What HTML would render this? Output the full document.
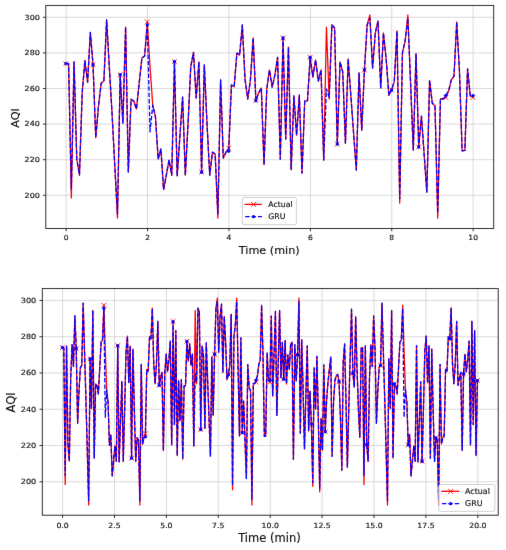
<!DOCTYPE html>
<html lang="en"><head><meta charset="utf-8"><title>AQI Actual vs GRU</title>
<style>html,body{margin:0;padding:0;background:#fff}body{width:506px;height:550px;overflow:hidden}svg{display:block}</style>
</head><body>
<svg width="506" height="550" viewBox="0 0 506 550">
<defs><filter id="soft" filterUnits="userSpaceOnUse" x="0" y="0" width="506" height="550" color-interpolation-filters="sRGB"><feConvolveMatrix order="3" kernelMatrix="0.0045 0.0669 0.0045 0.0669 1 0.0669 0.0045 0.0669 0.0045" edgeMode="duplicate" preserveAlpha="true"/></filter></defs>
<rect width="506" height="550" fill="#fff"/>
<g filter="url(#soft)">
<rect width="506" height="550" fill="#fff"/>
<clipPath id="clip1"><rect x="45.8" y="5.4" width="447.9" height="223.04999999999998"/></clipPath>
<rect x="45.8" y="5.4" width="447.9" height="223.04999999999998" fill="#fff"/>
<path d="M66.15 5.4V228.45M147.55 5.4V228.45M228.95 5.4V228.45M310.35 5.4V228.45M391.75 5.4V228.45M473.15 5.4V228.45M45.8 195.30H493.7M45.8 159.70H493.7M45.8 124.10H493.7M45.8 88.50H493.7M45.8 52.90H493.7M45.8 17.30H493.7" stroke="#bcbcbc" stroke-width="0.55" fill="none"/>
<g clip-path="url(#clip1)">
<path d="M65.90 63.58 L68.61 63.58 L71.33 197.97 L74.04 61.80 L76.76 158.81 L79.47 175.01 L82.18 92.95 L84.90 60.73 L87.61 82.09 L90.33 32.43 L93.04 64.65 L95.75 137.81 L98.47 106.30 L101.18 83.16 L103.90 81.02 L106.61 19.97 L109.32 67.14 L112.04 113.42 L114.75 165.04 L117.47 218.08 L120.18 74.62 L122.89 123.03 L125.61 27.09 L128.32 171.98 L131.04 99.18 L133.75 100.96 L136.46 108.97 L139.18 83.16 L141.89 58.06 L144.61 55.93 L147.32 21.93 L150.03 67.14 L152.75 105.05 L155.46 116.98 L158.18 159.17 L160.89 149.02 L163.60 189.43 L166.32 175.19 L169.03 160.06 L171.75 175.19 L174.46 61.62 L177.17 176.08 L179.89 136.56 L182.60 97.04 L185.32 175.19 L188.03 124.10 L190.74 66.96 L193.46 52.37 L196.17 97.93 L198.89 61.98 L201.60 172.16 L204.31 65.00 L207.03 124.10 L209.74 175.19 L212.46 152.05 L215.17 154.18 L217.88 218.08 L220.60 79.96 L223.31 158.10 L226.03 152.05 L228.74 148.13 L231.45 84.94 L234.17 86.72 L236.88 53.08 L239.60 55.04 L242.31 24.95 L245.02 79.07 L247.74 99.00 L250.45 79.60 L253.17 37.95 L255.88 100.60 L258.59 92.95 L261.31 87.97 L264.02 164.68 L266.74 89.39 L269.45 69.99 L272.16 87.08 L274.88 75.15 L277.59 57.35 L280.31 159.17 L283.02 37.95 L285.73 139.05 L288.45 47.03 L291.16 169.49 L293.88 95.98 L296.59 135.14 L299.30 95.09 L302.02 173.05 L304.73 100.96 L307.45 100.96 L310.16 57.35 L312.87 76.93 L315.59 60.02 L318.30 81.02 L321.02 69.99 L323.73 160.06 L326.44 27.09 L329.16 99.00 L331.87 24.95 L334.59 27.98 L337.30 144.04 L340.01 61.98 L342.73 71.95 L345.44 143.15 L348.16 58.95 L350.87 95.98 L353.58 133.00 L356.30 170.02 L359.01 73.01 L361.73 130.15 L364.44 69.99 L367.15 24.95 L369.87 14.99 L372.58 68.03 L375.30 32.96 L378.01 21.04 L380.72 87.97 L383.44 32.96 L386.15 58.95 L388.87 95.09 L391.58 89.92 L394.29 81.38 L397.01 31.01 L399.72 203.13 L402.44 52.90 L405.15 40.97 L407.86 14.99 L410.58 83.16 L413.29 150.09 L416.01 53.97 L418.72 147.06 L421.43 116.09 L424.15 154.36 L426.86 192.10 L429.58 80.31 L432.29 103.10 L435.00 105.94 L437.72 218.08 L440.43 98.65 L443.15 99.00 L445.86 97.40 L448.57 90.99 L451.29 79.96 L454.00 76.04 L456.72 21.93 L459.43 70.70 L462.14 150.80 L464.86 150.44 L467.57 68.92 L470.29 95.98 L473.00 97.40" stroke="#ff0000" stroke-width="1.3" fill="none" stroke-linejoin="round" stroke-linecap="square"/>
<path d="M63.50 61.18L68.30 65.98M63.50 65.98L68.30 61.18M90.64 62.25L95.44 67.05M90.64 67.05L95.44 62.25M117.78 72.22L122.58 77.02M117.78 77.02L122.58 72.22M144.92 19.53L149.72 24.33M144.92 24.33L149.72 19.53M172.06 59.22L176.86 64.02M172.06 64.02L176.86 59.22M199.20 169.76L204.00 174.56M199.20 174.56L204.00 169.76M226.34 145.73L231.14 150.53M226.34 150.53L231.14 145.73M253.48 98.20L258.28 103.00M253.48 103.00L258.28 98.20M280.62 35.55L285.42 40.35M280.62 40.35L285.42 35.55M307.76 54.95L312.56 59.75M307.76 59.75L312.56 54.95M334.90 141.64L339.70 146.44M334.90 146.44L339.70 141.64M362.04 67.59L366.84 72.39M362.04 72.39L366.84 67.59M389.18 87.52L393.98 92.32M389.18 92.32L393.98 87.52M416.32 144.66L421.12 149.46M416.32 149.46L421.12 144.66M443.46 95.00L448.26 99.80M443.46 99.80L448.26 95.00M470.60 95.00L475.40 99.80M470.60 99.80L475.40 95.00" stroke="#ff0000" stroke-width="0.85" fill="none"/>
<path d="M65.90 63.58 L68.61 63.58 L71.33 189.07 L74.04 61.80 L76.76 158.81 L79.47 175.01 L82.18 92.95 L84.90 60.73 L87.61 82.09 L90.33 32.43 L93.04 64.65 L95.75 137.81 L98.47 106.30 L101.18 83.16 L103.90 81.02 L106.61 19.97 L109.32 67.14 L112.04 113.42 L114.75 165.04 L117.47 213.99 L120.18 74.62 L122.89 123.03 L125.61 27.09 L128.32 171.98 L131.04 99.18 L133.75 100.96 L136.46 108.97 L139.18 83.16 L141.89 58.06 L144.61 55.93 L147.32 24.95 L150.03 131.93 L152.75 105.05 L155.46 116.98 L158.18 159.17 L160.89 149.02 L163.60 189.43 L166.32 175.19 L169.03 160.06 L171.75 175.19 L174.46 61.62 L177.17 176.08 L179.89 136.56 L182.60 97.04 L185.32 175.19 L188.03 124.10 L190.74 66.96 L193.46 52.37 L196.17 97.93 L198.89 61.98 L201.60 172.16 L204.31 65.00 L207.03 124.10 L209.74 175.19 L212.46 152.05 L215.17 154.18 L217.88 213.99 L220.60 79.96 L223.31 158.10 L226.03 152.05 L228.74 151.16 L231.45 84.94 L234.17 86.72 L236.88 53.08 L239.60 55.04 L242.31 24.95 L245.02 79.07 L247.74 99.00 L250.45 79.60 L253.17 37.95 L255.88 100.60 L258.59 92.95 L261.31 87.97 L264.02 164.68 L266.74 89.39 L269.45 69.99 L272.16 87.08 L274.88 75.15 L277.59 57.35 L280.31 159.17 L283.02 37.95 L285.73 139.05 L288.45 47.03 L291.16 169.49 L293.88 95.98 L296.59 135.14 L299.30 95.09 L302.02 173.05 L304.73 100.96 L307.45 100.96 L310.16 57.35 L312.87 76.93 L315.59 60.02 L318.30 81.02 L321.02 69.99 L323.73 160.06 L326.44 89.03 L329.16 97.40 L331.87 24.95 L334.59 27.98 L337.30 144.04 L340.01 61.98 L342.73 71.95 L345.44 143.15 L348.16 58.95 L350.87 95.98 L353.58 133.00 L356.30 170.02 L359.01 73.01 L361.73 130.15 L364.44 69.99 L367.15 24.95 L369.87 18.19 L372.58 68.03 L375.30 32.96 L378.01 21.04 L380.72 87.97 L383.44 32.96 L386.15 58.95 L388.87 95.09 L391.58 89.92 L394.29 81.38 L397.01 31.01 L399.72 198.86 L402.44 52.90 L405.15 40.97 L407.86 18.19 L410.58 83.16 L413.29 150.09 L416.01 53.97 L418.72 147.06 L421.43 116.09 L424.15 154.36 L426.86 192.10 L429.58 80.31 L432.29 103.10 L435.00 105.94 L437.72 213.10 L440.43 98.65 L443.15 99.00 L445.86 95.44 L448.57 90.99 L451.29 79.96 L454.00 76.04 L456.72 21.93 L459.43 70.70 L462.14 150.80 L464.86 150.44 L467.57 68.92 L470.29 95.98 L473.00 95.62" stroke="#0000ff" stroke-width="1.3" fill="none" stroke-linejoin="round" stroke-dasharray="4.44 1.92"/>
<circle cx="65.90" cy="63.58" r="1.6" fill="#0000ff"/>
<circle cx="93.04" cy="64.65" r="1.6" fill="#0000ff"/>
<circle cx="120.18" cy="74.62" r="1.6" fill="#0000ff"/>
<circle cx="147.32" cy="24.95" r="1.6" fill="#0000ff"/>
<circle cx="174.46" cy="61.62" r="1.6" fill="#0000ff"/>
<circle cx="201.60" cy="172.16" r="1.6" fill="#0000ff"/>
<circle cx="228.74" cy="151.16" r="1.6" fill="#0000ff"/>
<circle cx="255.88" cy="100.60" r="1.6" fill="#0000ff"/>
<circle cx="283.02" cy="37.95" r="1.6" fill="#0000ff"/>
<circle cx="310.16" cy="57.35" r="1.6" fill="#0000ff"/>
<circle cx="337.30" cy="144.04" r="1.6" fill="#0000ff"/>
<circle cx="364.44" cy="69.99" r="1.6" fill="#0000ff"/>
<circle cx="391.58" cy="89.92" r="1.6" fill="#0000ff"/>
<circle cx="418.72" cy="147.06" r="1.6" fill="#0000ff"/>
<circle cx="445.86" cy="95.44" r="1.6" fill="#0000ff"/>
<circle cx="473.00" cy="95.62" r="1.6" fill="#0000ff"/>
</g>
<rect x="45.8" y="5.4" width="447.9" height="223.04999999999998" fill="none" stroke="#1a1a1a" stroke-width="0.9"/>
<path d="M66.15 228.45v2.8M147.55 228.45v2.8M228.95 228.45v2.8M310.35 228.45v2.8M391.75 228.45v2.8M473.15 228.45v2.8M45.8 195.30h-2.8M45.8 159.70h-2.8M45.8 124.10h-2.8M45.8 88.50h-2.8M45.8 52.90h-2.8M45.8 17.30h-2.8" stroke="#1a1a1a" stroke-width="0.9" fill="none"/>
<g font-family="'DejaVu Sans','Liberation Sans',sans-serif" font-size="7.1" fill="#111" stroke="#111" stroke-width="0.16">
<text transform="translate(66.15 240.1) scale(1.07 1)" text-anchor="middle">0</text>
<text transform="translate(147.55 240.1) scale(1.07 1)" text-anchor="middle">2</text>
<text transform="translate(228.95 240.1) scale(1.07 1)" text-anchor="middle">4</text>
<text transform="translate(310.35 240.1) scale(1.07 1)" text-anchor="middle">6</text>
<text transform="translate(391.75 240.1) scale(1.07 1)" text-anchor="middle">8</text>
<text transform="translate(473.15 240.1) scale(1.07 1)" text-anchor="middle">10</text>
<text transform="translate(39.9 197.66) scale(1.13 1)" text-anchor="end">200</text>
<text transform="translate(39.9 162.06) scale(1.13 1)" text-anchor="end">220</text>
<text transform="translate(39.9 126.46) scale(1.13 1)" text-anchor="end">240</text>
<text transform="translate(39.9 90.86) scale(1.13 1)" text-anchor="end">260</text>
<text transform="translate(39.9 55.26) scale(1.13 1)" text-anchor="end">280</text>
<text transform="translate(39.9 19.66) scale(1.13 1)" text-anchor="end">300</text>
</g>
<text x="269.25" y="254.3" text-anchor="middle" font-family="'DejaVu Sans','Liberation Sans',sans-serif" font-size="11.2" fill="#111" stroke="#111" stroke-width="0.15">Time (min)</text>
<text transform="translate(19.0 117.92) rotate(-90)" text-anchor="middle" font-family="'DejaVu Sans','Liberation Sans',sans-serif" font-size="11.2" fill="#111" stroke="#111" stroke-width="0.15">AQI</text>
<rect x="242.4" y="197.4" width="53.99999999999997" height="27.299999999999983" rx="1.6" fill="#fff" fill-opacity="0.8" stroke="#cccccc" stroke-width="0.9"/>
<path d="M244.5 204.4H261.9" stroke="#ff0000" stroke-width="1.3"/>
<path d="M251.1 202.0L255.9 206.8M251.1 206.8L255.9 202.0" stroke="#ff0000" stroke-width="0.85"/>
<path d="M245.20 216.7H261.9" stroke="#0000ff" stroke-width="1.3" stroke-dasharray="4.44 1.92"/>
<circle cx="253.5" cy="216.7" r="1.6" fill="#0000ff"/>
<g font-family="'DejaVu Sans','Liberation Sans',sans-serif" font-size="7.8" fill="#111" stroke="#111" stroke-width="0.16"><text x="268.3" y="207.35">Actual</text><text x="268.3" y="219.45">GRU</text></g>
<clipPath id="clip2"><rect x="42.3" y="288.6" width="455.9" height="226.60000000000002"/></clipPath>
<rect x="42.3" y="288.6" width="455.9" height="226.60000000000002" fill="#fff"/>
<path d="M62.56 288.6V515.2M114.47 288.6V515.2M166.38 288.6V515.2M218.29 288.6V515.2M270.20 288.6V515.2M322.11 288.6V515.2M374.02 288.6V515.2M425.93 288.6V515.2M477.84 288.6V515.2M42.3 481.80H498.2M42.3 445.53H498.2M42.3 409.26H498.2M42.3 372.99H498.2M42.3 336.72H498.2M42.3 300.45H498.2" stroke="#bcbcbc" stroke-width="0.55" fill="none"/>
<g clip-path="url(#clip2)">
<path d="M62.40 347.60 L63.78 347.60 L65.17 484.52 L66.55 345.79 L67.93 444.62 L69.32 461.13 L70.70 377.52 L72.08 344.70 L73.47 366.46 L74.85 315.86 L76.23 348.69 L77.62 423.22 L79.00 391.12 L80.38 367.55 L81.77 365.37 L83.15 303.17 L84.53 351.23 L85.92 398.38 L87.30 450.97 L88.68 505.01 L90.07 358.84 L91.45 408.17 L92.83 310.42 L94.22 458.04 L95.60 383.87 L96.98 385.68 L98.37 393.85 L99.75 367.55 L101.13 341.98 L102.52 339.80 L103.90 305.17 L105.28 351.23 L106.67 389.86 L108.05 402.01 L109.43 444.99 L110.82 434.65 L112.20 475.82 L113.58 461.31 L114.97 445.89 L116.35 461.31 L117.73 345.61 L119.12 462.21 L120.50 421.95 L121.88 381.69 L123.27 461.31 L124.65 409.26 L126.03 351.05 L127.42 336.18 L128.80 382.60 L130.18 345.97 L131.57 458.22 L132.95 349.05 L134.33 409.26 L135.72 461.31 L137.10 437.73 L138.48 439.91 L139.87 505.01 L141.25 364.29 L142.63 443.90 L144.02 437.73 L145.40 433.74 L146.78 369.36 L148.17 371.18 L149.55 336.90 L150.93 338.90 L152.32 308.25 L153.70 363.38 L155.08 383.69 L156.47 363.92 L157.85 321.49 L159.23 385.32 L160.62 377.52 L162.00 372.45 L163.38 450.61 L164.77 373.90 L166.15 354.13 L167.53 371.54 L168.92 359.39 L170.30 341.25 L171.68 444.99 L173.07 321.49 L174.45 424.49 L175.83 330.74 L177.22 455.50 L178.60 380.61 L179.98 420.50 L181.37 379.70 L182.75 459.13 L184.13 385.68 L185.52 385.68 L186.90 341.25 L188.28 361.20 L189.67 343.97 L191.05 365.37 L192.43 354.13 L193.82 445.89 L195.20 310.42 L196.58 383.69 L197.97 308.25 L199.35 311.33 L200.73 429.57 L202.12 345.97 L203.50 356.12 L204.88 428.66 L206.27 342.89 L207.65 380.61 L209.03 418.33 L210.42 456.05 L211.80 357.21 L213.18 415.43 L214.57 354.13 L215.95 308.25 L217.33 298.09 L218.72 352.13 L220.10 316.41 L221.48 304.26 L222.87 372.45 L224.25 316.41 L225.63 342.89 L227.02 379.70 L228.40 374.44 L229.78 365.74 L231.17 314.41 L232.55 489.78 L233.93 336.72 L235.32 324.57 L236.70 298.09 L238.08 367.55 L239.47 435.74 L240.85 337.81 L242.23 432.65 L243.62 401.10 L245.00 440.09 L246.38 478.54 L247.77 364.65 L249.15 387.86 L250.53 390.76 L251.92 505.01 L253.30 383.33 L254.68 383.69 L256.07 382.06 L257.45 375.53 L258.83 364.29 L260.22 360.30 L261.60 305.17 L262.98 354.85 L264.37 436.46 L265.75 436.10 L267.13 353.04 L268.52 380.61 L269.90 382.06 L271.28 316.05 L272.67 396.20 L274.05 354.85 L275.43 311.51 L276.82 415.43 L278.20 363.92 L279.58 310.61 L280.97 377.71 L282.35 342.34 L283.73 379.16 L285.12 340.71 L286.50 383.87 L287.88 354.85 L289.27 369.36 L290.65 343.97 L292.03 342.34 L293.42 459.31 L294.80 344.70 L296.18 380.79 L297.57 354.85 L298.95 298.27 L300.33 433.20 L301.72 339.98 L303.10 391.12 L304.48 448.79 L305.87 394.75 L307.25 345.97 L308.63 431.02 L310.02 391.12 L311.40 423.77 L312.78 486.33 L314.17 367.91 L315.55 409.26 L316.93 356.31 L318.32 418.33 L319.70 491.77 L321.08 418.33 L322.47 450.06 L323.85 364.83 L325.23 431.75 L326.62 400.19 L328.00 382.06 L329.38 369.36 L330.77 357.03 L332.15 456.23 L333.53 402.01 L334.92 380.24 L336.30 375.71 L337.68 374.44 L339.07 381.69 L340.45 418.33 L341.83 470.19 L343.22 362.11 L344.60 343.97 L345.98 400.19 L347.37 467.11 L348.75 409.26 L350.13 358.48 L351.52 309.15 L352.90 373.35 L354.28 386.95 L355.67 316.77 L357.05 369.36 L358.43 409.26 L359.82 437.19 L361.20 347.60 L362.58 347.60 L363.97 484.52 L365.35 345.79 L366.73 444.62 L368.12 461.13 L369.50 377.52 L370.88 344.70 L372.27 366.46 L373.65 315.86 L375.03 348.69 L376.42 423.22 L377.80 391.12 L379.18 367.55 L380.57 365.37 L381.95 303.17 L383.33 351.23 L384.72 398.38 L386.10 450.97 L387.48 505.01 L388.87 358.84 L390.25 408.17 L391.63 310.42 L393.02 458.04 L394.40 383.87 L395.78 385.68 L397.17 393.85 L398.55 367.55 L399.93 341.98 L401.32 339.80 L402.70 305.17 L404.08 351.23 L405.47 389.86 L406.85 402.01 L408.23 444.99 L409.62 434.65 L411.00 475.82 L412.38 461.31 L413.77 445.89 L415.15 461.31 L416.53 345.61 L417.92 462.21 L419.30 421.95 L420.68 381.69 L422.07 461.31 L423.45 409.26 L424.83 351.05 L426.22 336.18 L427.60 382.60 L428.98 345.97 L430.37 458.22 L431.75 349.05 L433.13 409.26 L434.52 461.31 L435.90 437.73 L437.28 439.91 L438.67 505.01 L440.05 364.29 L441.43 443.90 L442.82 437.73 L444.20 433.74 L445.58 369.36 L446.97 371.18 L448.35 336.90 L449.73 338.90 L451.12 308.25 L452.50 363.38 L453.88 383.69 L455.27 363.92 L456.65 321.49 L458.03 385.32 L459.42 377.52 L460.80 372.45 L462.18 450.61 L463.57 373.90 L464.95 354.13 L466.33 371.54 L467.72 359.39 L469.10 341.25 L470.48 444.99 L471.87 321.49 L473.25 424.49 L474.63 330.74 L476.02 455.50 L477.40 380.61" stroke="#ff0000" stroke-width="1.3" fill="none" stroke-linejoin="round" stroke-linecap="square"/>
<path d="M60.00 345.20L64.80 350.00M60.00 350.00L64.80 345.20M73.83 346.29L78.63 351.09M73.83 351.09L78.63 346.29M87.67 356.44L92.47 361.24M87.67 361.24L92.47 356.44M101.50 302.77L106.30 307.57M101.50 307.57L106.30 302.77M115.33 343.21L120.13 348.01M115.33 348.01L120.13 343.21M129.17 455.82L133.97 460.62M129.17 460.62L133.97 455.82M143.00 431.34L147.80 436.14M143.00 436.14L147.80 431.34M156.83 382.92L161.63 387.72M156.83 387.72L161.63 382.92M170.67 319.09L175.47 323.89M170.67 323.89L175.47 319.09M184.50 338.85L189.30 343.65M184.50 343.65L189.30 338.85M198.33 427.17L203.13 431.97M198.33 431.97L203.13 427.17M212.17 351.73L216.97 356.53M212.17 356.53L216.97 351.73M226.00 372.04L230.80 376.84M226.00 376.84L230.80 372.04M239.83 430.25L244.63 435.05M239.83 435.05L244.63 430.25M253.67 379.66L258.47 384.46M253.67 384.46L258.47 379.66M267.50 379.66L272.30 384.46M267.50 384.46L272.30 379.66M281.33 376.76L286.13 381.56M281.33 381.56L286.13 376.76M295.17 352.45L299.97 357.25M295.17 357.25L299.97 352.45M309.00 421.37L313.80 426.17M309.00 426.17L313.80 421.37M322.83 429.35L327.63 434.15M322.83 434.15L327.63 429.35M336.67 379.29L341.47 384.09M336.67 384.09L341.47 379.29M350.50 370.95L355.30 375.75M350.50 375.75L355.30 370.95M364.33 442.22L369.13 447.02M364.33 447.02L369.13 442.22M378.17 362.97L382.97 367.77M378.17 367.77L382.97 362.97M392.00 381.47L396.80 386.27M392.00 386.27L396.80 381.47M405.83 442.59L410.63 447.39M405.83 447.39L410.63 442.59M419.67 458.91L424.47 463.71M419.67 463.71L424.47 458.91M433.50 435.33L438.30 440.13M433.50 440.13L438.30 435.33M447.33 336.50L452.13 341.30M447.33 341.30L452.13 336.50M461.17 371.50L465.97 376.30M461.17 376.30L465.97 371.50M475.00 378.21L479.80 383.01M475.00 383.01L479.80 378.21" stroke="#ff0000" stroke-width="0.85" fill="none"/>
<path d="M62.40 347.60 L63.78 347.60 L65.17 475.45 L66.55 345.79 L67.93 444.62 L69.32 461.13 L70.70 377.52 L72.08 344.70 L73.47 366.46 L74.85 315.86 L76.23 348.69 L77.62 423.22 L79.00 391.12 L80.38 367.55 L81.77 365.37 L83.15 303.17 L84.53 351.23 L85.92 398.38 L87.30 450.97 L88.68 500.84 L90.07 358.84 L91.45 408.17 L92.83 310.42 L94.22 458.04 L95.60 383.87 L96.98 385.68 L98.37 393.85 L99.75 367.55 L101.13 341.98 L102.52 339.80 L103.90 308.25 L105.28 417.24 L106.67 389.86 L108.05 402.01 L109.43 444.99 L110.82 434.65 L112.20 475.82 L113.58 461.31 L114.97 445.89 L116.35 461.31 L117.73 345.61 L119.12 462.21 L120.50 421.95 L121.88 381.69 L123.27 461.31 L124.65 409.26 L126.03 351.05 L127.42 336.18 L128.80 382.60 L130.18 345.97 L131.57 458.22 L132.95 349.05 L134.33 409.26 L135.72 461.31 L137.10 437.73 L138.48 439.91 L139.87 500.84 L141.25 364.29 L142.63 443.90 L144.02 437.73 L145.40 436.83 L146.78 369.36 L148.17 371.18 L149.55 336.90 L150.93 338.90 L152.32 308.25 L153.70 363.38 L155.08 383.69 L156.47 363.92 L157.85 321.49 L159.23 385.32 L160.62 377.52 L162.00 372.45 L163.38 450.61 L164.77 373.90 L166.15 354.13 L167.53 371.54 L168.92 359.39 L170.30 341.25 L171.68 444.99 L173.07 321.49 L174.45 424.49 L175.83 330.74 L177.22 455.50 L178.60 380.61 L179.98 420.50 L181.37 379.70 L182.75 459.13 L184.13 385.68 L185.52 385.68 L186.90 341.25 L188.28 361.20 L189.67 343.97 L191.05 365.37 L192.43 354.13 L193.82 445.89 L195.20 373.53 L196.58 382.06 L197.97 308.25 L199.35 311.33 L200.73 429.57 L202.12 345.97 L203.50 356.12 L204.88 428.66 L206.27 342.89 L207.65 380.61 L209.03 418.33 L210.42 456.05 L211.80 357.21 L213.18 415.43 L214.57 354.13 L215.95 308.25 L217.33 301.36 L218.72 352.13 L220.10 316.41 L221.48 304.26 L222.87 372.45 L224.25 316.41 L225.63 342.89 L227.02 379.70 L228.40 374.44 L229.78 365.74 L231.17 314.41 L232.55 485.43 L233.93 336.72 L235.32 324.57 L236.70 301.36 L238.08 367.55 L239.47 435.74 L240.85 337.81 L242.23 432.65 L243.62 401.10 L245.00 440.09 L246.38 478.54 L247.77 364.65 L249.15 387.86 L250.53 390.76 L251.92 499.93 L253.30 383.33 L254.68 383.69 L256.07 380.06 L257.45 375.53 L258.83 364.29 L260.22 360.30 L261.60 305.17 L262.98 354.85 L264.37 436.46 L265.75 436.10 L267.13 353.04 L268.52 380.61 L269.90 380.24 L271.28 316.05 L272.67 396.20 L274.05 354.85 L275.43 311.51 L276.82 415.43 L278.20 363.92 L279.58 310.61 L280.97 377.71 L282.35 342.34 L283.73 379.16 L285.12 340.71 L286.50 383.87 L287.88 354.85 L289.27 369.36 L290.65 343.97 L292.03 342.34 L293.42 459.31 L294.80 344.70 L296.18 380.79 L297.57 354.85 L298.95 301.36 L300.33 433.20 L301.72 339.98 L303.10 391.12 L304.48 448.79 L305.87 394.75 L307.25 345.97 L308.63 431.02 L310.02 391.12 L311.40 423.77 L312.78 482.71 L314.17 367.91 L315.55 409.26 L316.93 356.31 L318.32 418.33 L319.70 488.15 L321.08 418.33 L322.47 450.06 L323.85 364.83 L325.23 431.75 L326.62 400.19 L328.00 382.06 L329.38 369.36 L330.77 357.03 L332.15 456.23 L333.53 402.01 L334.92 380.24 L336.30 375.71 L337.68 374.44 L339.07 381.69 L340.45 418.33 L341.83 470.19 L343.22 362.11 L344.60 343.97 L345.98 400.19 L347.37 467.11 L348.75 409.26 L350.13 358.48 L351.52 309.15 L352.90 373.35 L354.28 386.95 L355.67 316.77 L357.05 369.36 L358.43 409.26 L359.82 437.19 L361.20 347.60 L362.58 347.60 L363.97 475.45 L365.35 345.79 L366.73 444.62 L368.12 461.13 L369.50 377.52 L370.88 344.70 L372.27 366.46 L373.65 315.86 L375.03 348.69 L376.42 423.22 L377.80 391.12 L379.18 367.55 L380.57 365.37 L381.95 303.17 L383.33 351.23 L384.72 398.38 L386.10 450.97 L387.48 500.84 L388.87 358.84 L390.25 408.17 L391.63 310.42 L393.02 458.04 L394.40 383.87 L395.78 385.68 L397.17 393.85 L398.55 367.55 L399.93 341.98 L401.32 339.80 L402.70 308.25 L404.08 417.24 L405.47 389.86 L406.85 402.01 L408.23 444.99 L409.62 434.65 L411.00 475.82 L412.38 461.31 L413.77 445.89 L415.15 461.31 L416.53 345.61 L417.92 462.21 L419.30 421.95 L420.68 381.69 L422.07 461.31 L423.45 409.26 L424.83 351.05 L426.22 336.18 L427.60 382.60 L428.98 345.97 L430.37 458.22 L431.75 349.05 L433.13 409.26 L434.52 461.31 L435.90 437.73 L437.28 439.91 L438.67 500.84 L440.05 364.29 L441.43 443.90 L442.82 437.73 L444.20 436.83 L445.58 369.36 L446.97 371.18 L448.35 336.90 L449.73 338.90 L451.12 308.25 L452.50 363.38 L453.88 383.69 L455.27 363.92 L456.65 321.49 L458.03 385.32 L459.42 377.52 L460.80 372.45 L462.18 450.61 L463.57 373.90 L464.95 354.13 L466.33 371.54 L467.72 359.39 L469.10 341.25 L470.48 444.99 L471.87 321.49 L473.25 424.49 L474.63 330.74 L476.02 455.50 L477.40 380.61" stroke="#0000ff" stroke-width="1.3" fill="none" stroke-linejoin="round" stroke-dasharray="4.44 1.92"/>
<circle cx="62.40" cy="347.60" r="1.6" fill="#0000ff"/>
<circle cx="76.23" cy="348.69" r="1.6" fill="#0000ff"/>
<circle cx="90.07" cy="358.84" r="1.6" fill="#0000ff"/>
<circle cx="103.90" cy="308.25" r="1.6" fill="#0000ff"/>
<circle cx="117.73" cy="345.61" r="1.6" fill="#0000ff"/>
<circle cx="131.57" cy="458.22" r="1.6" fill="#0000ff"/>
<circle cx="145.40" cy="436.83" r="1.6" fill="#0000ff"/>
<circle cx="159.23" cy="385.32" r="1.6" fill="#0000ff"/>
<circle cx="173.07" cy="321.49" r="1.6" fill="#0000ff"/>
<circle cx="186.90" cy="341.25" r="1.6" fill="#0000ff"/>
<circle cx="200.73" cy="429.57" r="1.6" fill="#0000ff"/>
<circle cx="214.57" cy="354.13" r="1.6" fill="#0000ff"/>
<circle cx="228.40" cy="374.44" r="1.6" fill="#0000ff"/>
<circle cx="242.23" cy="432.65" r="1.6" fill="#0000ff"/>
<circle cx="256.07" cy="380.06" r="1.6" fill="#0000ff"/>
<circle cx="269.90" cy="380.24" r="1.6" fill="#0000ff"/>
<circle cx="283.73" cy="379.16" r="1.6" fill="#0000ff"/>
<circle cx="297.57" cy="354.85" r="1.6" fill="#0000ff"/>
<circle cx="311.40" cy="423.77" r="1.6" fill="#0000ff"/>
<circle cx="325.23" cy="431.75" r="1.6" fill="#0000ff"/>
<circle cx="339.07" cy="381.69" r="1.6" fill="#0000ff"/>
<circle cx="352.90" cy="373.35" r="1.6" fill="#0000ff"/>
<circle cx="366.73" cy="444.62" r="1.6" fill="#0000ff"/>
<circle cx="380.57" cy="365.37" r="1.6" fill="#0000ff"/>
<circle cx="394.40" cy="383.87" r="1.6" fill="#0000ff"/>
<circle cx="408.23" cy="444.99" r="1.6" fill="#0000ff"/>
<circle cx="422.07" cy="461.31" r="1.6" fill="#0000ff"/>
<circle cx="435.90" cy="437.73" r="1.6" fill="#0000ff"/>
<circle cx="449.73" cy="338.90" r="1.6" fill="#0000ff"/>
<circle cx="463.57" cy="373.90" r="1.6" fill="#0000ff"/>
<circle cx="477.40" cy="380.61" r="1.6" fill="#0000ff"/>
</g>
<rect x="42.3" y="288.6" width="455.9" height="226.60000000000002" fill="none" stroke="#1a1a1a" stroke-width="0.9"/>
<path d="M62.56 515.2v2.8M114.47 515.2v2.8M166.38 515.2v2.8M218.29 515.2v2.8M270.20 515.2v2.8M322.11 515.2v2.8M374.02 515.2v2.8M425.93 515.2v2.8M477.84 515.2v2.8M42.3 481.80h-2.8M42.3 445.53h-2.8M42.3 409.26h-2.8M42.3 372.99h-2.8M42.3 336.72h-2.8M42.3 300.45h-2.8" stroke="#1a1a1a" stroke-width="0.9" fill="none"/>
<g font-family="'DejaVu Sans','Liberation Sans',sans-serif" font-size="7.25" fill="#111" stroke="#111" stroke-width="0.16">
<text transform="translate(62.56 527.6) scale(1.07 1)" text-anchor="middle">0.0</text>
<text transform="translate(114.47 527.6) scale(1.07 1)" text-anchor="middle">2.5</text>
<text transform="translate(166.38 527.6) scale(1.07 1)" text-anchor="middle">5.0</text>
<text transform="translate(218.29 527.6) scale(1.07 1)" text-anchor="middle">7.5</text>
<text transform="translate(270.20 527.6) scale(1.07 1)" text-anchor="middle">10.0</text>
<text transform="translate(322.11 527.6) scale(1.07 1)" text-anchor="middle">12.5</text>
<text transform="translate(374.02 527.6) scale(1.07 1)" text-anchor="middle">15.0</text>
<text transform="translate(425.93 527.6) scale(1.07 1)" text-anchor="middle">17.5</text>
<text transform="translate(477.84 527.6) scale(1.07 1)" text-anchor="middle">20.0</text>
<text transform="translate(36.3 484.22) scale(1.13 1)" text-anchor="end">200</text>
<text transform="translate(36.3 447.95) scale(1.13 1)" text-anchor="end">220</text>
<text transform="translate(36.3 411.68) scale(1.13 1)" text-anchor="end">240</text>
<text transform="translate(36.3 375.41) scale(1.13 1)" text-anchor="end">260</text>
<text transform="translate(36.3 339.14) scale(1.13 1)" text-anchor="end">280</text>
<text transform="translate(36.3 302.87) scale(1.13 1)" text-anchor="end">300</text>
</g>
<text x="269.45" y="542.0" text-anchor="middle" font-family="'DejaVu Sans','Liberation Sans',sans-serif" font-size="11.5" fill="#111" stroke="#111" stroke-width="0.15">Time (min)</text>
<text transform="translate(14.5 402.40) rotate(-90)" text-anchor="middle" font-family="'DejaVu Sans','Liberation Sans',sans-serif" font-size="11.5" fill="#111" stroke="#111" stroke-width="0.15">AQI</text>
<rect x="438.8" y="484.5" width="56.099999999999966" height="26.899999999999977" rx="1.6" fill="#fff" fill-opacity="0.8" stroke="#cccccc" stroke-width="0.9"/>
<path d="M441.3 491.3H459.3" stroke="#ff0000" stroke-width="1.3"/>
<path d="M448.20000000000005 488.90000000000003L453.0 493.7M448.20000000000005 493.7L453.0 488.90000000000003" stroke="#ff0000" stroke-width="0.85"/>
<path d="M442.00 503.7H459.3" stroke="#0000ff" stroke-width="1.3" stroke-dasharray="4.44 1.92"/>
<circle cx="450.6" cy="503.7" r="1.6" fill="#0000ff"/>
<g font-family="'DejaVu Sans','Liberation Sans',sans-serif" font-size="7.95" fill="#111" stroke="#111" stroke-width="0.16"><text x="465.0" y="494.0">Actual</text><text x="465.0" y="506.1">GRU</text></g>
</g>
</svg>
</body></html>
